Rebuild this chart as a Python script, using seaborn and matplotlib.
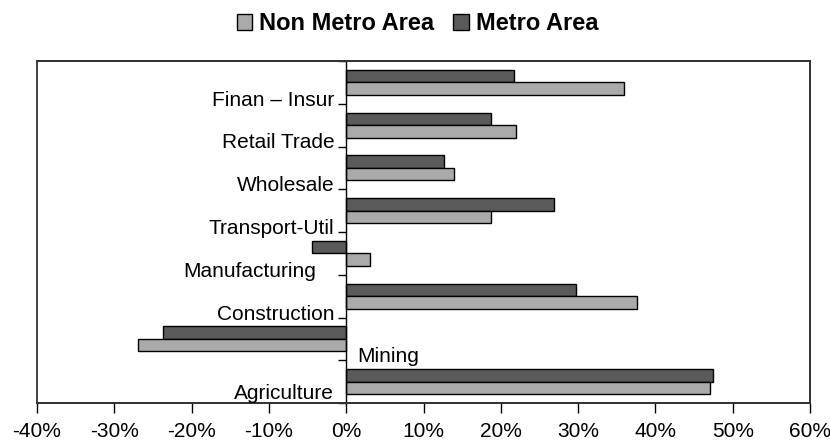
import numpy as np
import pandas as pd
import seaborn as sns
import matplotlib.pyplot as plt
from matplotlib.patches import Patch, Rectangle
import matplotlib.transforms as mtransforms

sns.set_style('white')
plt.rcParams['font.family'] = ['Liberation Sans', 'DejaVu Sans']
plt.rcParams['text.color'] = 'black'
plt.rcParams['xtick.color'] = 'black'
plt.rcParams['ytick.color'] = 'black'

categories = ['Finan – Insur', 'Retail Trade', 'Wholesale', 'Transport-Util',
              'Manufacturing', 'Construction', 'Mining', 'Agriculture']
metro = [21.7, 18.7, 12.6, 26.9, -4.4, 29.7, -23.7, 47.5]        # Metro Area, %
non_metro = [36.0, 22.0, 13.9, 18.7, 3.1, 37.6, -26.9, 47.0]     # Non Metro Area, %
x_ticks = list(range(-40, 61, 10))

df = pd.DataFrame({'cat': categories * 2,
                   'val': metro + non_metro,
                   'area': ['Metro Area'] * len(categories) + ['Non Metro Area'] * len(categories)})

colors = {'Metro Area': '#5a5a5a', 'Non Metro Area': '#aaaaaa'}

fig = plt.figure(figsize=(8.3, 4.47), dpi=100)
ax = fig.add_axes([37 / 830, 1 - 403 / 447, 773 / 830, 342 / 447])

sns.barplot(data=df, y='cat', x='val', hue='area', order=categories,
            hue_order=['Metro Area', 'Non Metro Area'], palette=colors,
            orient='h', width=0.59, saturation=1, edgecolor='black',
            linewidth=1, legend=False, ax=ax)

ax.set_xlim(-40, 60)
ax.set_ylim(len(categories) - 0.5, -0.5)
ax.set_xlabel('')
ax.set_ylabel('')

# zero axis with tick marks between categories
ax.spines['left'].set_position(('data', 0))
ax.spines['left'].set_linewidth(1)
ax.spines['left'].set_color('black')
ax.set_yticks(np.arange(-0.5, len(categories), 1.0))
ax.set_yticklabels([])
ax.tick_params(axis='y', direction='out', length=6, width=1, left=True)
for s in ['top', 'right', 'bottom']:
    ax.spines[s].set_visible(True)
    ax.spines[s].set_color('#333333')
    ax.spines[s].set_linewidth(1.3)
ax.add_patch(Rectangle((0, 0), 1, 1, transform=ax.transAxes, fill=False,
                       edgecolor='#333333', linewidth=1.3, clip_on=False))

ax.set_xticks(x_ticks)
ax.set_xticklabels([f'{t}%' for t in x_ticks])
ax.tick_params(axis='x', direction='out', length=7, width=1,
               bottom=True, pad=7, labelsize=15)

# category labels next to the zero axis
last = len(categories) - 1
for i, (c, m, n) in enumerate(zip(categories, metro, non_metro)):
    lo = min(m, n)
    hi = max(m, n)
    va = 'bottom' if i == last else 'baseline'
    dy = 0 if i == last else -2
    if lo >= 0:
        off = mtransforms.offset_copy(ax.transData, fig=fig, x=-12, y=dy, units='dots')
        ax.text(0, i + 0.5, c, ha='right', va=va, fontsize=15, transform=off)
    elif hi < 0:
        off = mtransforms.offset_copy(ax.transData, fig=fig, x=11, y=dy, units='dots')
        ax.text(0, i + 0.5, c, ha='left', va=va, fontsize=15, transform=off)
    else:
        off = mtransforms.offset_copy(ax.transData, fig=fig, x=4, y=dy, units='dots')
        ax.text(lo, i + 0.5, c, ha='right', va=va, fontsize=15, transform=off)

handles = [Patch(facecolor=colors['Non Metro Area'], edgecolor='black', label='Non Metro Area'),
           Patch(facecolor=colors['Metro Area'], edgecolor='black', label='Metro Area')]
fig.legend(handles=handles, loc='center', bbox_to_anchor=(0.503, 1 - 24 / 447), ncol=2,
           frameon=False, handlelength=0.65, handleheight=0.65, handletextpad=0.3,
           columnspacing=0.8, prop={'weight': 'bold', 'size': 17})

fig.savefig('out.png', dpi=100)
